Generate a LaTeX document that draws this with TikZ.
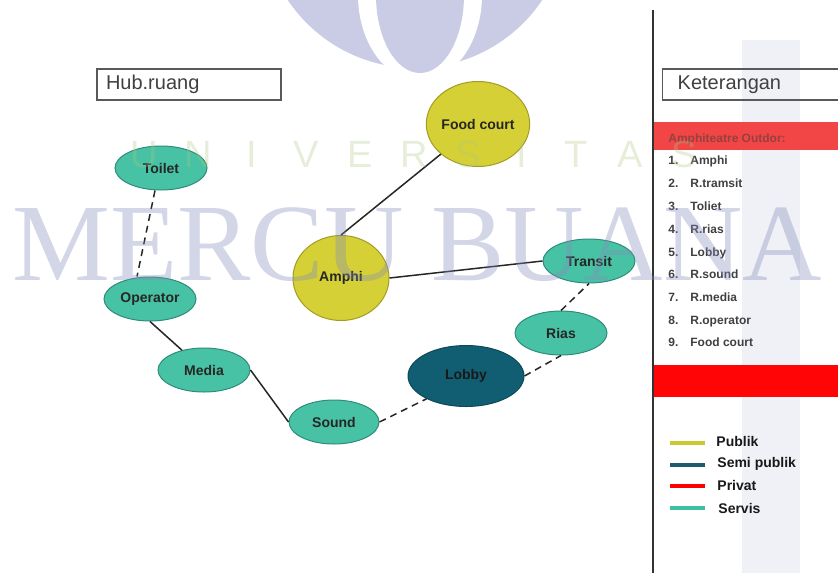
\documentclass[tikz,border=0pt]{standalone}
\usepackage{fontspec}
\setmainfont{Liberation Sans}
\newfontfamily\wmfont{Liberation Serif}
\usetikzlibrary{shapes.geometric}

\definecolor{servisfill}{HTML}{48C2A4}
\definecolor{servisline}{HTML}{2E8C7A}
\definecolor{publikfill}{HTML}{D5D036}
\definecolor{publikline}{HTML}{A39C22}
\definecolor{semifill}{HTML}{115E72}
\definecolor{semiline}{HTML}{0B4A5A}
\definecolor{bandred}{HTML}{F24646}
\definecolor{privatred}{HTML}{FF0505}
\definecolor{legyellow}{HTML}{CCC832}
\definecolor{legblue}{HTML}{1A5C6E}
\definecolor{legteal}{HTML}{3CC0A0}
\definecolor{wmblue}{HTML}{858CBB}
\definecolor{wmlogo}{HTML}{C9CCE4}
\definecolor{wmgreen}{HTML}{ABC883}
\definecolor{wmband}{HTML}{EFF1F6}

\tikzset{
  room/.style={ellipse, draw, line width=0.5pt, inner sep=0pt,
    font=\bfseries\fontsize{7}{8}\selectfont, text=black!85},
  servis/.style={room, fill=servisfill, draw=servisline,
    minimum width=46pt, minimum height=22pt},
  publik/.style={room, fill=publikfill, draw=publikline,
    minimum width=48pt, minimum height=42.5pt},
  semipublik/.style={room, fill=semifill, draw=semiline,
    minimum width=58pt, minimum height=30.5pt, text=black!90},
  link/.style={line width=0.75pt, black!85},
  titlebox/.style={draw=black!65, line width=0.7pt, minimum height=15.5pt,
    inner ysep=0pt, align=left, font=\fontsize{10}{12}\selectfont, text=black!75},
  item/.style={inner sep=0pt, font=\bfseries\fontsize{6}{7}\selectfont, text=black!75},
  legend/.style={inner sep=0pt, font=\bfseries\fontsize{7}{8}\selectfont, text=black!90}
}

\begin{document}
\begin{tikzpicture}[x=0.5pt, y=-0.5pt]
\useasboundingbox (0,0) rectangle (838,573);

% watermark behind
\fill[wmband] (742,40) rectangle (800,573);
\fill[wmlogo] (415,-85) circle (153);
\fill[white] (420,-5) ellipse [x radius=62, y radius=86];
\fill[wmlogo] (420,-5) ellipse [x radius=44, y radius=78];

% titles
\node[titlebox, minimum width=92pt, inner xsep=4.5pt, text width=83pt] (hub) at (189,84.5) {Hub.ruang};
\node[titlebox, anchor=west, minimum width=94pt, inner xsep=7.5pt, text width=79pt] (ket) at (662,84.5) {Keterangan};
\draw[line width=0.6pt, black!80] (653,10) -- (653,573);

% rooms
\node[publik, minimum width=47.5pt] (food) at (478,124) {Food court};
\node[publik] (amphi) at (341,278) {Amphi};
\node[servis] (toilet) at (161,168) {Toilet};
\node[servis] (operator) at (150,299) {Operator};
\node[servis] (media) at (204,370) {Media};
\node[servis, minimum width=45pt] (sound) at (334,422) {Sound};
\node[semipublik] (lobby) at (466,376) {Lobby};
\node[servis] (rias) at (561,333) {Rias};
\node[servis] (transit) at (589,261) {Transit};

% hubungan
\draw[link] (amphi.north) -- (food);
\draw[link] (amphi.east) -- (transit.west);
\draw[link, dash pattern=on 3.5pt off 2.5pt] ([xshift=-3pt]toilet.south) -- ([xshift=-6.5pt]operator.north);
\draw[link] (operator.south) -- (media);
\draw[link] (media.east) -- (sound.west);
\draw[link, dash pattern=on 3.5pt off 2.5pt] (sound.east) -- (lobby.210);
\draw[link, dash pattern=on 3.5pt off 2.5pt] (lobby.east) -- (rias.south);
\draw[link, dash pattern=on 3.5pt off 2.5pt] (rias.north) -- (transit.south);

% keterangan
\fill[bandred] (654,122) rectangle (838,150);
\node[item, anchor=base west, text=red!45!black!75] (outdor) at (668,142) {Amphiteatre Outdor:};
\node[item, anchor=base west] (n1) at (668,164) {1.};
\node[item, anchor=base west] (i1) at (690,164) {Amphi};
\node[item, anchor=base west] (n2) at (668,187) {2.};
\node[item, anchor=base west] (i2) at (690,187) {R.tramsit};
\node[item, anchor=base west] (n3) at (668,210) {3.};
\node[item, anchor=base west] (i3) at (690,210) {Toliet};
\node[item, anchor=base west] (n4) at (668,233) {4.};
\node[item, anchor=base west] (i4) at (690,233) {R.rias};
\node[item, anchor=base west] (n5) at (668,256) {5.};
\node[item, anchor=base west] (i5) at (690,256) {Lobby};
\node[item, anchor=base west] (n6) at (668,278) {6.};
\node[item, anchor=base west] (i6) at (690,278) {R.sound};
\node[item, anchor=base west] (n7) at (668,301) {7.};
\node[item, anchor=base west] (i7) at (690,301) {R.media};
\node[item, anchor=base west] (n8) at (668,324) {8.};
\node[item, anchor=base west] (i8) at (690,324) {R.operator};
\node[item, anchor=base west] (n9) at (668,346) {9.};
\node[item, anchor=base west] (i9) at (690,346) {Food court};
\fill[privatred] (654,365) rectangle (838,397);

% legenda
\draw[line width=2pt, legyellow] (670,443) -- (705,443);
\node[legend, anchor=west] (lpublik) at (716,441) {Publik};
\draw[line width=2pt, legblue] (670,465) -- (705,465);
\node[legend, anchor=west] (lsemi) at (717,464) {Semi publik};
\draw[line width=2pt, red] (670,486) -- (705,486);
\node[legend, anchor=west] (lprivat) at (717,485) {Privat};
\draw[line width=2pt, legteal] (670,508) -- (705,508);
\node[legend, anchor=west] (lservis) at (718,508) {Servis};

% watermark on top
\foreach \l [count=\i from 0] in {U,N,I,V,E,R,S,I,T,A,S}
  \node[inner sep=0pt, anchor=base, font=\fontsize{19}{19}\selectfont, text=wmgreen, text opacity=0.3] (wmu\i) at (144+54*\i,167) {\l};
\node[inner sep=0pt, anchor=base west, font=\wmfont\fontsize{55}{55}\selectfont, text=wmblue, text opacity=0.36] (wmmb) at (12,280) {MERCU BUANA};
\end{tikzpicture}
\end{document}
